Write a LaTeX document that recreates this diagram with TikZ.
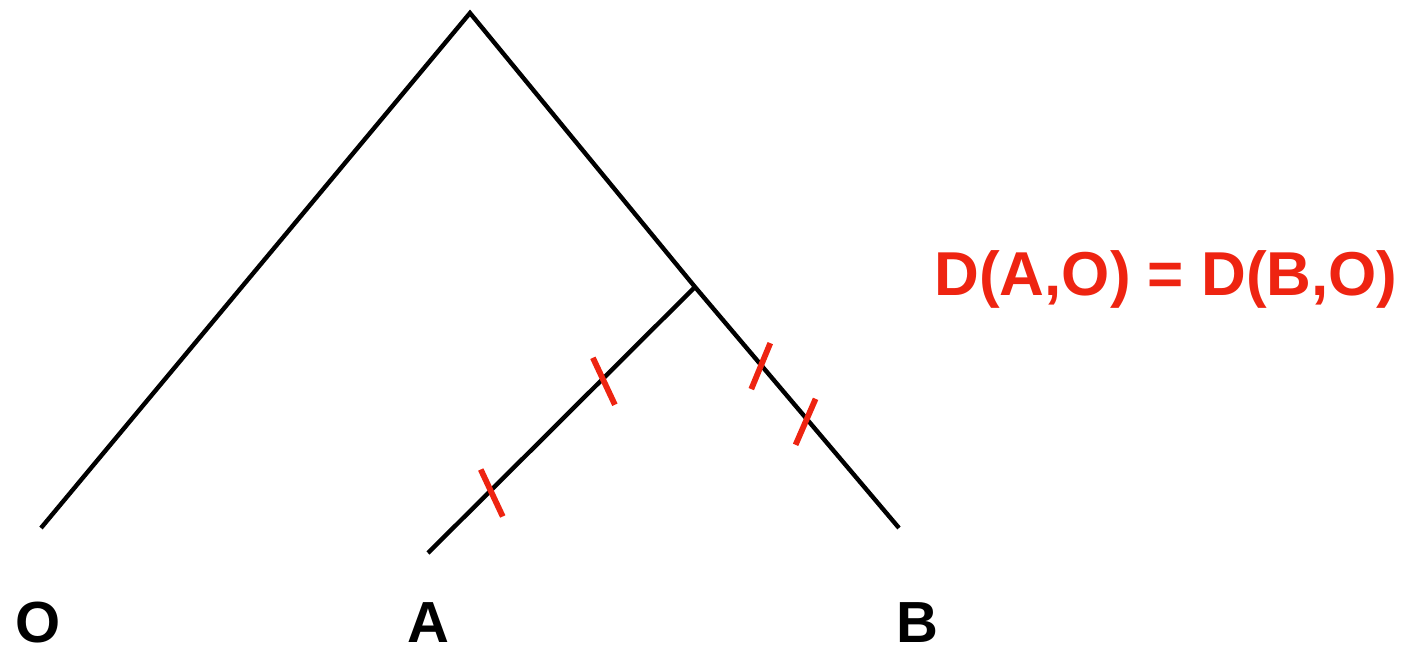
\documentclass[tikz,border=0pt]{standalone}
\usepackage{fontspec}
\setmainfont{Liberation Sans}
\usetikzlibrary{positioning}

\definecolor{markred}{RGB}{238,36,17}

\begin{document}
\begin{tikzpicture}[
  x=0.5pt,y=-0.5pt,
  branch/.style={draw=black,line width=2.2pt},
  tick/.style={draw=markred,line width=2.9pt},
  leaflabel/.style={anchor=base,inner sep=0pt,font=\fontsize{29}{29}\selectfont\bfseries},
  formula/.style={anchor=base,inner sep=0pt,text=markred,font=\fontsize{31}{31}\selectfont\bfseries}
]
  \useasboundingbox (0,0) rectangle (1405,648);

  % tree points
  \coordinate (root) at (470,13);
  \coordinate (inner) at (695,287);
  \coordinate (leafO) at (41,528);
  \coordinate (leafA) at (428,553);
  \coordinate (leafB) at (899,528);

  \draw[branch] (leafO) -- (root) -- (inner) -- (leafB);
  \draw[branch] (inner) -- (leafA);

  % where the marks cross the branches
  \path (inner) -- (leafA) coordinate[pos=.345] (markA1) coordinate[pos=.765] (markA2);
  \path (inner) -- (leafB) coordinate[pos=.32] (markB1) coordinate[pos=.547] (markB2);

  \draw[tick] (markA1) ++(-10,-21) -- ++(22,47);
  \draw[tick] (markA2) ++(-10,-21) -- ++(22,47);
  \draw[tick] (markB1) ++(10,-21) -- ++(-19,46);
  \draw[tick] (markB2) ++(9,-20) -- ++(-20,46);

  \node[leaflabel] (labO) at (38,642) {O};
  \node[leaflabel] (labA) at (428,642) {A};
  \node[leaflabel] (labB) at (917,642) {B};

  \node[formula] (eq) at (1166,295) {D(A,O) = D(B,O)};
\end{tikzpicture}
\end{document}
